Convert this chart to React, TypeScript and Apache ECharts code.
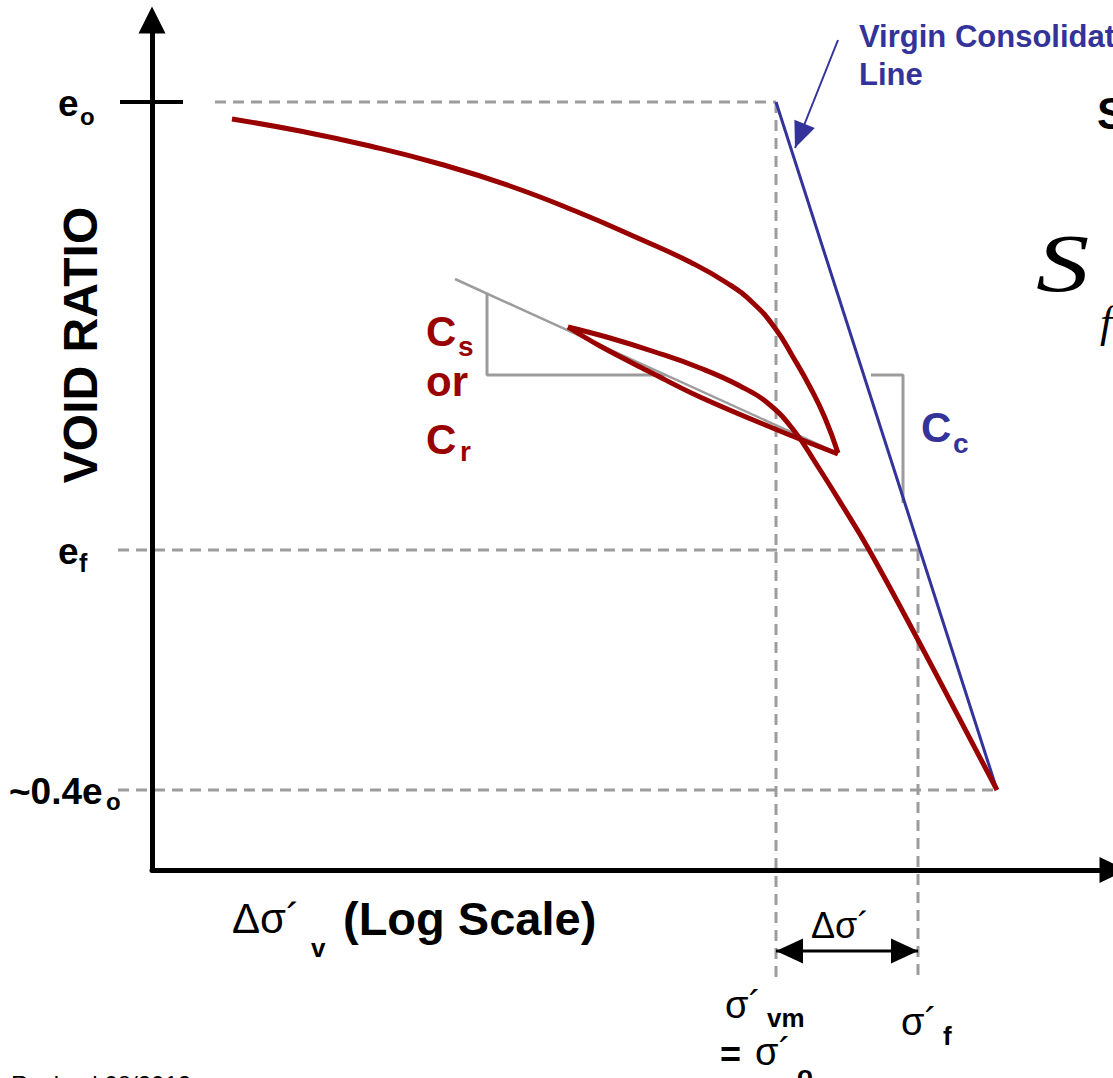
import React, { useEffect, useRef } from "react";
import * as echarts from "echarts";

const RED = "#990000";
const BLUE = "#333399";
const GREY = "#9c9c9c";
const SANS = "Liberation Sans, Arial, sans-serif";
const SERIF = "Liberation Serif, Times New Roman, serif";

// x: log of effective stress (arbitrary chart units), y: void ratio (arbitrary chart units)
const sigmaVm = 78;
const sigmaF = 95.75;
const sigmaEnd = 105.625;
const e0 = 96;
const eF = 40;
const e04 = 10;

// loading (first) branch
const loadX = [10, 18.5, 27.25, 36, 44.75, 53.5, 61, 67.25, 71.875, 75.125, 77.875, 80.125, 82.25, 84.125, 85.75];
const loadY = [93.875, 92.375, 90.5, 88.25, 85.5, 82.125, 78.875, 76, 73.375, 70.875, 67.75, 64.125, 60.375, 56.5, 52.125];
// unloading branch
const unloadX = [85.75, 77.875, 68.5, 62.25, 56, 52];
const unloadY = [52, 55.125, 59.125, 62.25, 65.5, 67.875];
// reloading branch, joining the virgin compression line
const reloadX = [52, 57.25, 62.875, 68.5, 73.5, 77.25, 80.375, 82.875, 86.25, 89.5, 95.75, 105.625];
const reloadY = [67.875, 66.5, 64.75, 62.75, 60.5, 58.125, 54.75, 51, 45.625, 40.25, 28.75, 10];
// virgin consolidation line
const vclX = [sigmaVm, sigmaEnd];
const vclY = [e0, e04];
// Cs / Cr slope line and triangle
const csLineX = [37.875, 85.625];
const csLineY = [73.875, 52.125];
const csTriX = [41.875, 41.875, 64.225];
const csTriY = [72.05, 61.875, 61.875];
// Cc triangle
const ccTriX = [89.875, 93.875, 93.875];
const ccTriY = [61.875, 61.875, 45.875];
// pointer arrow to the VCL
const ptrX = [85.75, 80.375];
const ptrY = [103.75, 90.25];
// Δσ' dimension arrow level and guide extents
const dimY = -10.125;
const guideBottom = -14;
const guideLeft = -4.25;
const tickX = [-4, 3.875];

const pts = (xs: number[], ys: number[]) => xs.map((x, i) => [x, ys[i]]);

function lineSeries(data: any[], color: string, width: number, extra: any = {}) {
  return {
    type: "line",
    xAxisIndex: 1,
    yAxisIndex: 1,
    data,
    symbol: "none",
    showSymbol: false,
    clip: false,
    silent: true,
    animation: false,
    lineStyle: { color, width, cap: "butt" },
    itemStyle: { color },
    emphasis: { disabled: true },
    z: 3,
    ...extra,
  };
}

function txt(x: number, y: number, text: string, size: number, opts: any = {}) {
  const { color = "#000", weight = "bold", family = SANS, italic = false, align = "left", rotation = 0, scaleX = 1 } = opts;
  return {
    type: "text",
    x,
    y,
    rotation,
    scaleX,
    silent: true,
    style: {
      text,
      fill: color,
      fontSize: size,
      fontWeight: weight,
      fontFamily: family,
      fontStyle: italic ? "italic" : "normal",
      align,
      verticalAlign: "middle",
      textAlign: align,
      textVerticalAlign: "middle",
    },
  };
}

const hiddenAxis = (min: number, max: number) => ({
  type: "value",
  gridIndex: 1,
  min,
  max,
  show: false,
  axisLine: { show: false },
  axisTick: { show: false },
  axisLabel: { show: false },
  splitLine: { show: false },
});

export default function App() {
  const ref = useRef<HTMLDivElement>(null);
  useEffect(() => {
    if (!ref.current) return;
    const chart = echarts.init(ref.current, undefined, { renderer: "svg" });
    const dashed = (color: string) => ({ lineStyle: { color, width: 3, type: [11, 7] }, z: 1 });
    const option: any = {
      animation: false,
      backgroundColor: "#ffffff",
      grid: [
        { left: 152, top: 20, width: 961, height: 850 },
        { left: 0, top: 0, width: 1113, height: 1078 },
      ],
      xAxis: [
        {
          type: "value",
          gridIndex: 0,
          min: 0,
          max: 120.125,
          z: 10,
          axisLine: {
            onZero: false,
            lineStyle: { color: "#000", width: 5 },
            symbol: ["none", "triangle"],
            symbolSize: [26, 27],
          },
          axisTick: { show: false },
          axisLabel: { show: false },
          splitLine: { show: false },
        },
        hiddenAxis(-19, 120.125),
      ],
      yAxis: [
        {
          type: "value",
          gridIndex: 0,
          min: 0,
          max: 106.25,
          z: 10,
          axisLine: {
            onZero: false,
            lineStyle: { color: "#000", width: 5 },
            symbol: ["none", "triangle"],
            symbolSize: [27, 27],
          },
          axisTick: { show: false },
          axisLabel: { show: false },
          splitLine: { show: false },
        },
        hiddenAxis(-26, 108.75),
      ],
      series: [
        // dashed guides
        lineSeries([[7.875, e0], [sigmaVm, e0]], GREY, 3, dashed(GREY)),
        lineSeries([[guideLeft, eF], [sigmaF, eF]], GREY, 3, dashed(GREY)),
        lineSeries([[guideLeft, e04], [sigmaEnd, e04]], GREY, 3, dashed(GREY)),
        lineSeries([[sigmaVm, e0], [sigmaVm, guideBottom]], GREY, 3, dashed(GREY)),
        lineSeries([[sigmaF, eF], [sigmaF, guideBottom]], GREY, 3, dashed(GREY)),
        // e0 tick
        lineSeries([[tickX[0], e0], [tickX[1], e0]], "#000", 4),
        // slope helpers
        lineSeries(pts(csLineX, csLineY), GREY, 2.5, { z: 2 }),
        lineSeries(pts(csTriX, csTriY), GREY, 3, { z: 2 }),
        lineSeries(pts(ccTriX, ccTriY), GREY, 3, { z: 2 }),
        // virgin consolidation line
        lineSeries(pts(vclX, vclY), BLUE, 3),
        // e - log sigma curves
        lineSeries(pts(loadX, loadY), RED, 5, { smooth: 0.5, z: 4 }),
        lineSeries(pts(unloadX, unloadY), RED, 5, { smooth: 0.4, z: 4 }),
        lineSeries(pts(reloadX, reloadY), RED, 5, { smooth: 0.45, z: 4 }),
        // pointer arrow
        lineSeries(
          [
            { value: [ptrX[0], ptrY[0]], symbol: "none" },
            { value: [ptrX[1], ptrY[1]], symbol: "triangle", symbolSize: [22, 26], symbolRotate: 158.3, symbolOffset: [4.8, -12.1] },
          ],
          BLUE,
          2,
          { showSymbol: true, symbol: "triangle" }
        ),
        // Δσ' dimension arrow
        lineSeries(
          [
            { value: [sigmaVm, dimY], symbol: "triangle", symbolSize: [25, 27], symbolRotate: 90, symbolOffset: [13.5, 0] },
            { value: [sigmaF, dimY], symbol: "triangle", symbolSize: [25, 27], symbolRotate: -90, symbolOffset: [-13.5, 0] },
          ],
          "#000",
          3,
          { showSymbol: true, symbol: "triangle" }
        ),
      ],
      graphic: [
        txt(80, 345, "VOID RATIO", 48, { align: "center", rotation: Math.PI / 2 }),
        // y labels
        txt(58, 103, "e", 37),
        txt(80, 116, "o", 24),
        txt(58, 551, "e", 37),
        txt(79, 563, "f", 25),
        txt(9, 791, "~0.4e", 37),
        txt(106, 801, "o", 24),
        // x label
        txt(232, 918, "Δσ´", 42, { weight: "normal" }),
        txt(311, 948, "v", 26),
        txt(343, 918, "(Log Scale)", 47),
        // Cs or Cr
        txt(426, 331, "C", 42, { color: RED }),
        txt(458, 346, "s", 28, { color: RED }),
        txt(426, 381, "or", 42, { color: RED }),
        txt(426, 439, "C", 42, { color: RED }),
        txt(460, 451, "r", 28, { color: RED }),
        // Cc
        txt(921, 427, "C", 42, { color: BLUE }),
        txt(953, 443, "c", 28, { color: BLUE }),
        // Δσ'
        txt(811, 925, "Δσ´", 36, { weight: "normal" }),
        // σ'vm = σ'o
        txt(725, 1005, "σ´", 38, { weight: "normal" }),
        txt(767, 1018, "vm", 26),
        txt(720, 1054, "=", 36),
        txt(755, 1052, "σ´", 38, { weight: "normal" }),
        txt(797, 1075, "o", 26),
        // σ'f
        txt(901, 1022, "σ´", 38, { weight: "normal" }),
        txt(943, 1036, "f", 26),
        // VCL note
        txt(859, 36.5, "Virgin Consolidation", 31, { color: BLUE }),
        txt(859, 74.5, "Line", 31, { color: BLUE }),
        // right side (cropped) text
        txt(1097, 113, "Settlement", 44),
        txt(1036, 263, "S", 82, { weight: "normal", family: SERIF, italic: true, scaleX: 1.3 }),
        txt(1100, 322, "f", 44, { weight: "normal", family: SERIF, italic: true }),
        // footer
        txt(11, 1084, "Revised 08/2012", 24, { weight: "normal" }),
      ],
    };
    chart.setOption(option);
    return () => chart.dispose();
  }, []);
  return (
    <div
      ref={ref}
      style={{ position: "absolute", left: 0, top: 0, width: 1113, height: 1078, background: "#fff" }}
    />
  );
}
